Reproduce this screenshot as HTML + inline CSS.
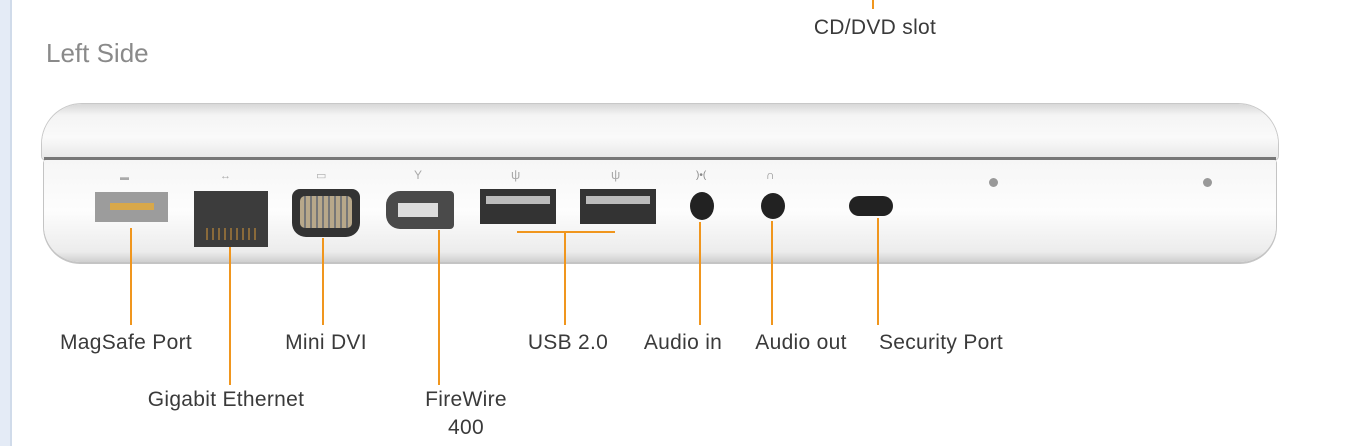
<!DOCTYPE html><html><head><style>
body{margin:0;width:1370px;height:446px;background:#fff;position:relative;overflow:hidden;font-family:"Liberation Sans",sans-serif}
.a{position:absolute}
.l{position:absolute;background:#f0961e}
.t{position:absolute;font-size:21px;letter-spacing:0.3px;color:#3a3a3a;transform:translateX(-50%);white-space:nowrap;text-align:center;line-height:28px}
</style></head><body>
<div class="a" style="left:0;top:0;width:10px;height:446px;background:#e4ebf6"></div>
<div class="a" style="left:10px;top:0;width:2px;height:446px;background:#d0dbea"></div>
<div class="l" style="left:872px;top:0;width:2px;height:9px"></div>
<div class="t" style="left:875px;top:14px">CD/DVD slot</div>
<div class="a" style="left:46px;top:38px;font-size:26px;color:#8a8a8a">Left Side</div>
<div class="a" style="left:42px;top:104px;width:1236px;height:56px;border-radius:40px 40px 4px 4px;background:linear-gradient(#d8d8d8,#f4f4f4 20%,#fafafa 60%,#e6e6e6);box-shadow:0 0 0 1px #c8c8c8"></div>
<div class="a" style="left:44px;top:157px;width:1232px;height:3px;background:#777"></div>
<div class="a" style="left:44px;top:160px;width:1232px;height:102px;border-radius:2px 2px 36px 36px;background:linear-gradient(#f6f6f6,#fdfdfd 50%,#ececec 90%,#cfcfcf);box-shadow:0 1px 0 1px #c4c4c4"></div>
<div class="a" style="left:95px;top:192px;width:73px;height:30px;background:#9c9c9c"></div>
<div class="a" style="left:110px;top:203px;width:44px;height:7px;background:#d8a84a"></div>
<div class="a" style="left:194px;top:191px;width:74px;height:56px;background:#3c3c3c"></div>
<div class="a" style="left:206px;top:228px;width:50px;height:12px;background:repeating-linear-gradient(90deg,#8a6a3a 0 2px,#3c3c3c 2px 6px)"></div>
<div class="a" style="left:292px;top:189px;width:68px;height:48px;border-radius:8px 8px 14px 14px;background:#333"></div>
<div class="a" style="left:300px;top:196px;width:52px;height:32px;border-radius:5px;background:repeating-linear-gradient(90deg,#b8a88a 0 4px,#777 4px 6px)"></div>
<div class="a" style="left:386px;top:191px;width:68px;height:38px;border-radius:14px 4px 4px 14px;background:#4a4a4a"></div>
<div class="a" style="left:398px;top:203px;width:40px;height:14px;background:#ddd"></div>
<div class="a" style="left:480px;top:189px;width:76px;height:35px;background:#333"></div>
<div class="a" style="left:486px;top:196px;width:64px;height:8px;background:#bbb"></div>
<div class="a" style="left:580px;top:189px;width:76px;height:35px;background:#333"></div>
<div class="a" style="left:586px;top:196px;width:64px;height:8px;background:#bbb"></div>
<div class="a" style="left:690px;top:192px;width:24px;height:28px;border-radius:50%;background:#222"></div>
<div class="a" style="left:761px;top:193px;width:24px;height:26px;border-radius:50%;background:#222"></div>
<div class="a" style="left:849px;top:196px;width:44px;height:20px;border-radius:10px;background:#222"></div>
<div class="a" style="left:989px;top:178px;width:9px;height:9px;border-radius:50%;background:#999"></div>
<div class="a" style="left:1203px;top:178px;width:9px;height:9px;border-radius:50%;background:#999"></div>
<div class="a" style="left:120px;top:172px;font-size:9px;color:#aaa">▬</div>
<div class="a" style="left:220px;top:170px;font-size:11px;color:#aaa">↔</div>
<div class="a" style="left:316px;top:169px;font-size:11px;color:#aaa">▭</div>
<div class="a" style="left:414px;top:168px;font-size:12px;color:#aaa">Y</div>
<div class="a" style="left:511px;top:167px;font-size:13px;color:#aaa">ψ</div>
<div class="a" style="left:611px;top:167px;font-size:13px;color:#aaa">ψ</div>
<div class="a" style="left:696px;top:170px;font-size:10px;color:#888">)•(</div>
<div class="a" style="left:766px;top:168px;font-size:12px;color:#888">∩</div>
<div class="l" style="left:130px;top:228px;width:2px;height:97px"></div>
<div class="l" style="left:229px;top:247px;width:2px;height:138px"></div>
<div class="l" style="left:322px;top:238px;width:2px;height:87px"></div>
<div class="l" style="left:438px;top:230px;width:2px;height:155px"></div>
<div class="l" style="left:517px;top:231px;width:98px;height:2px"></div>
<div class="l" style="left:564px;top:231px;width:2px;height:94px"></div>
<div class="l" style="left:699px;top:222px;width:2px;height:103px"></div>
<div class="l" style="left:771px;top:221px;width:2px;height:104px"></div>
<div class="l" style="left:877px;top:218px;width:2px;height:107px"></div>
<div class="t" style="left:126px;top:329px">MagSafe Port</div>
<div class="t" style="left:226px;top:386px">Gigabit Ethernet</div>
<div class="t" style="left:326px;top:329px">Mini DVI</div>
<div class="t" style="left:466px;top:386px">FireWire<br>400</div>
<div class="t" style="left:568px;top:329px">USB 2.0</div>
<div class="t" style="left:683px;top:329px">Audio in</div>
<div class="t" style="left:801px;top:329px">Audio out</div>
<div class="t" style="left:941px;top:329px">Security Port</div>
</body></html>
